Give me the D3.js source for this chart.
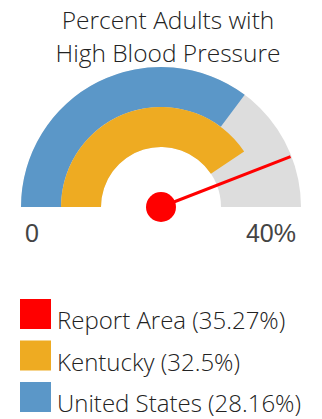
<!DOCTYPE html>
<html><head><meta charset="utf-8">
<script src="https://cdn.jsdelivr.net/npm/d3@7"></script>
<style>
html,body{margin:0;padding:0;background:#fff;}
svg{display:block;}
</style></head>
<body>
<script>
const titleLines = ["Percent Adults with", "High Blood Pressure"];
const scaleDomain = [0, 40];
const tickLabels = ["0", "40%"];
const seriesNames = ["Report Area", "Kentucky", "United States"];
const seriesValues = [35.27, 32.5, 28.16];
const seriesLabels = ["35.27%", "32.5%", "28.16%"];
const seriesColors = ["#FF0000", "#EEAB22", "#5B97C8"];

const W = 322, H = 419;
const svg = d3.select("body").append("svg").attr("width", W).attr("height", H);
const font = "'Open Sans', sans-serif";

// title
svg.selectAll("text.title").data(titleLines).join("text")
  .attr("class", "title")
  .attr("x", 168).attr("y", (d, i) => 29 + i * 32.5)
  .attr("text-anchor", "middle")
  .attr("font-family", font).attr("font-weight", 300)
  .attr("font-size", 24.5).attr("fill", "#222")
  .text(d => d);

const cx = 161, cy = 207;
const angle = d3.scaleLinear().domain(scaleDomain).range([-Math.PI / 2, Math.PI / 2]);
const g = svg.append("g").attr("transform", `translate(${cx},${cy})`);

// background
g.append("path")
  .attr("d", d3.arc().innerRadius(60).outerRadius(140)
    .startAngle(angle(scaleDomain[0])).endAngle(angle(scaleDomain[1]))())
  .attr("fill", "#DDDDDD");

// United States outer band
g.append("path")
  .attr("d", d3.arc().innerRadius(100).outerRadius(140)
    .startAngle(angle(scaleDomain[0])).endAngle(angle(seriesValues[2]))())
  .attr("fill", seriesColors[2]);

// Kentucky inner band
g.append("path")
  .attr("d", d3.arc().innerRadius(60).outerRadius(100)
    .startAngle(angle(scaleDomain[0])).endAngle(angle(seriesValues[1]))())
  .attr("fill", seriesColors[1]);

// needle
const a = angle(seriesValues[0]);
const L = 139;
g.append("line")
  .attr("x1", 0).attr("y1", 0)
  .attr("x2", L * Math.sin(a)).attr("y2", -L * Math.cos(a))
  .attr("stroke", seriesColors[0]).attr("stroke-width", 3);
g.append("circle").attr("r", 15).attr("fill", seriesColors[0]);

// tick labels
svg.append("text").attr("x", 25).attr("y", 242).attr("text-anchor", "start")
  .attr("font-family", "'Liberation Sans', Arial, sans-serif")
  .attr("font-size", 25).attr("fill", "#444").text(tickLabels[0]);
svg.append("text").attr("x", 296).attr("y", 242).attr("text-anchor", "end")
  .attr("font-family", "'Liberation Sans', Arial, sans-serif")
  .attr("font-size", 25).attr("fill", "#444").text(tickLabels[1]);

// legend
const lg = svg.append("g");
const items = lg.selectAll("g").data(seriesNames).join("g")
  .attr("transform", (d, i) => `translate(20,${299 + i * 41.5})`);
items.append("rect").attr("width", 31).attr("height", 30)
  .attr("fill", (d, i) => seriesColors[i]);
items.append("text").attr("x", 37).attr("y", 30)
  .attr("font-family", font).attr("font-weight", 300)
  .attr("font-size", 24).attr("fill", "#222")
  .text((d, i) => `${d} (${seriesLabels[i]})`);
</script>
</body></html>
